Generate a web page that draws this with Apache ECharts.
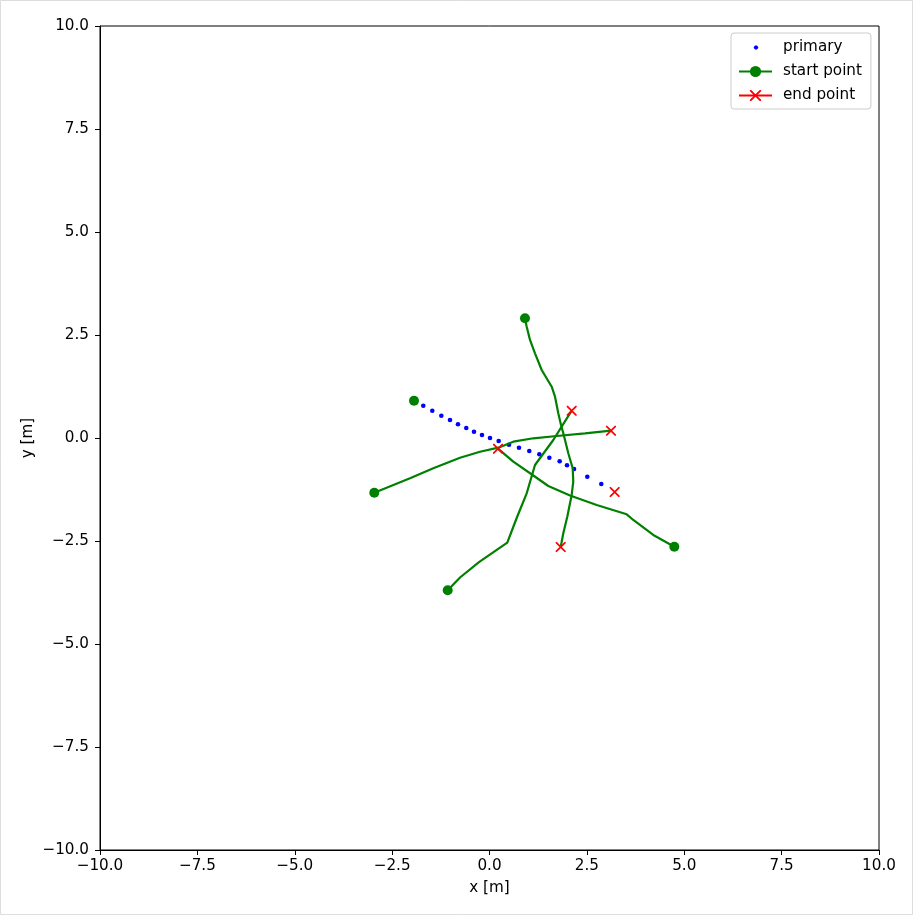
<!DOCTYPE html>
<html>
<head>
<meta charset="utf-8">
<script src="https://cdn.jsdelivr.net/npm/echarts@6/dist/echarts.min.js"></script>
<style>
html,body{margin:0;padding:0;background:#fff;}
#chart{width:913px;height:915px;}
</style>
</head>
<body>
<div id="chart"></div>
<script>
// ---- data ----
const axisTicks = [-10, -7.5, -5, -2.5, 0, 2.5, 5, 7.5, 10];

const primaryX = [-1.700, -1.469, -1.237, -1.014, -0.809, -0.596, -0.398, -0.193, 0.013, 0.236,
                  0.501, 0.757, 1.022, 1.279, 1.536, 1.802, 1.990, 2.170, 2.511, 2.870];
const primaryY = [0.784, 0.663, 0.541, 0.437, 0.333, 0.243, 0.153, 0.073, 0.000, -0.073,
                  -0.163, -0.235, -0.316, -0.396, -0.478, -0.566, -0.660, -0.752, -0.939, -1.117];
const primaryStart = [-1.938, 0.905];
const primaryEnd = [3.214, -1.311];

const trajA = [[0.911, 2.905], [0.955, 2.701], [1.040, 2.379], [1.168, 2.056], [1.340, 1.650],
               [1.597, 1.245], [1.682, 1.002], [1.766, 0.600], [1.836, 0.316], [1.895, 0.114],
               [2.023, -0.371], [2.136, -0.735], [2.151, -1.061], [2.110, -1.383], [1.997, -1.910],
               [1.895, -2.313], [1.828, -2.646]];
const trajB = [[-2.958, -1.328], [-2.041, -0.978], [-1.443, -0.735], [-0.757, -0.478], [-0.244, -0.333],
               [0.226, -0.235], [0.611, -0.090], [1.125, -0.007], [1.725, 0.049], [2.452, 0.114],
               [3.119, 0.177]];
const trajC = [[4.745, -2.638], [4.205, -2.354], [3.692, -1.990], [3.522, -1.852], [2.752, -1.626],
               [2.067, -1.396], [1.510, -1.165], [1.125, -0.910], [0.611, -0.575], [0.218, -0.260]];
const trajD = [[-1.073, -3.697], [-0.757, -3.386], [-0.270, -3.015], [0.457, -2.541], [0.698, -1.942],
               [0.955, -1.342], [1.168, -0.655], [1.638, -0.049], [2.110, 0.663]];
const trajectories = [trajA, trajB, trajC, trajD];

// ---- chart ----
const FONT = 'DejaVu Sans';
const FS = 15.2;
const GREEN = '#008000', BLUE = '#0000ff', RED = '#ff0000';
const XMARK = 'path://M0,0L1.2,0L5,3.8L8.8,0L10,0L10,1.2L6.2,5L10,8.8L10,10L8.8,10L5,6.2L1.2,10L0,10L0,8.8L3.8,5L0,1.2Z';
const DOT_ICON = 'path://M0,0M33,14M14.8,7L15.45,5.45L17,4.8L18.55,5.45L19.2,7L18.55,8.55L17,9.2L15.45,8.55Z';

const fmt = v => (v < 0 ? '\u2212' : '') + Math.abs(v).toFixed(1);

function axisCommon(name, margin, nameGap) {
  return {
    type: 'value', min: axisTicks[0], max: axisTicks[axisTicks.length - 1],
    interval: axisTicks[1] - axisTicks[0],
    name: name, nameLocation: 'middle', nameGap: nameGap, nameMoveOverlap: false,
    nameTextStyle: {fontFamily: FONT, fontSize: FS, color: '#000'},
    axisLine: {show: true, onZero: false, lineStyle: {color: '#000', width: 1}},
    axisTick: {show: true, inside: false, length: 5, lineStyle: {color: '#000', width: 1}},
    axisLabel: {show: true, formatter: fmt, fontFamily: FONT, fontSize: FS, color: '#000',
                margin: margin, showMinLabel: true, showMaxLabel: true},
    splitLine: {show: false}
  };
}

const series = [];
series.push({
  name: 'primary', type: 'scatter', z: 2,
  data: primaryX.map((x, i) => [x, primaryY[i]]),
  symbol: 'circle', symbolSize: 4.6,
  itemStyle: {color: BLUE, opacity: 1},
  emphasis: {disabled: true}, silent: true
});
trajectories.forEach(t => {
  series.push({
    name: 'start point', type: 'line', z: 3,
    data: t.map((p, i) => i === 0 ? {value: p, symbol: 'circle', symbolSize: 10} : {value: p, symbol: 'none'}),
    symbol: 'circle', symbolSize: 10, showSymbol: true,
    lineStyle: {color: GREEN, width: 2.2},
    itemStyle: {color: GREEN, opacity: 1},
    emphasis: {disabled: true}, silent: true
  });
});
series.push({
  name: 'start point', type: 'line', z: 3,
  data: [primaryStart],
  symbol: 'circle', symbolSize: 10,
  lineStyle: {color: GREEN, width: 2.2}, itemStyle: {color: GREEN, opacity: 1},
  emphasis: {disabled: true}, silent: true
});
const endPoints = [primaryEnd].concat(trajectories.map(t => t[t.length - 1]));
endPoints.forEach(p => {
  series.push({
    name: 'end point', type: 'line', z: 4,
    data: [p],
    symbol: XMARK, symbolSize: 10,
    lineStyle: {color: RED, width: 2.2}, itemStyle: {color: RED, opacity: 1},
    emphasis: {disabled: true}, silent: true
  });
});

const chart = echarts.init(document.getElementById('chart'), null, {renderer: 'canvas'});
chart.setOption({
  animation: false,
  backgroundColor: '#fff',
  textStyle: {fontFamily: FONT},
  grid: {left: 100, right: 34, top: 26, bottom: 65, show: true, borderColor: '#000', borderWidth: 1, containLabel: false},
  xAxis: Object.assign(axisCommon('x [m]', 9, 31), {position: 'bottom'}),
  yAxis: Object.assign(axisCommon('y [m]', 11, 64), {position: 'left'}),
  legend: {
    orient: 'vertical', left: 731, top: 33,
    padding: [7, 9, 6, 7],
    itemWidth: 33, itemHeight: 14, itemGap: 9,
    backgroundColor: 'rgba(255,255,255,0.8)',
    borderColor: '#cccccc', borderWidth: 1, borderRadius: 3,
    textStyle: {fontFamily: FONT, fontSize: FS, color: '#000', padding: [0, 0, 0, 6]},
    data: [
      {name: 'primary', icon: DOT_ICON, itemStyle: {color: BLUE}},
      {name: 'start point'},
      {name: 'end point'}
    ],
    selectedMode: false
  },
  graphic: [{
    type: 'rect', silent: true, z: 100,
    shape: {x: 0.5, y: 0.5, width: 912, height: 914},
    style: {fill: 'none', stroke: '#dddddd', lineWidth: 1}
  }],
  series: series
});
</script>
</body>
</html>
